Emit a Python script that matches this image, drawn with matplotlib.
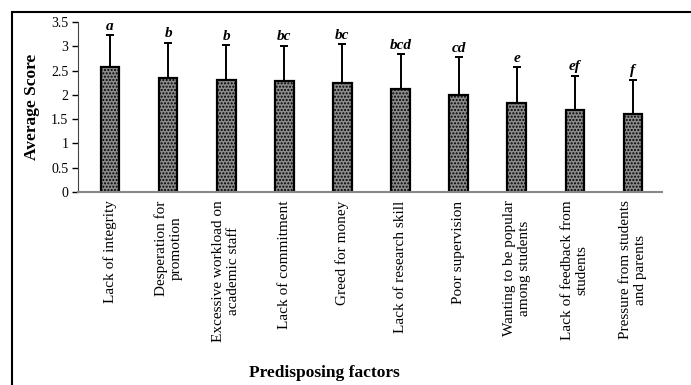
import matplotlib.pyplot as plt
from matplotlib.patches import Rectangle
import numpy as np

factors = ['Lack of integrity', 'Desperation for\npromotion',
           'Excessive workload on\nacademic staff', 'Lack of commitment',
           'Greed for money', 'Lack of research skill', 'Poor supervision',
           'Wanting to be popular\namong students', 'Lack of feedback from\nstudents',
           'Pressure from students\nand parents']
means = [2.57, 2.35, 2.31, 2.29, 2.25, 2.12, 2.00, 1.83, 1.69, 1.60]
errs = [0.66, 0.72, 0.71, 0.72, 0.79, 0.72, 0.77, 0.74, 0.70, 0.71]
letters = ['a', 'b', 'b', 'bc', 'bc', 'bcd', 'cd', 'e', 'ef', 'f']

plt.rcParams['font.family'] = 'Liberation Serif'
plt.rcParams['hatch.color'] = '#555555'
plt.rcParams['hatch.linewidth'] = 1.0

fig = plt.figure(figsize=(6.91, 3.85), dpi=100)
ax = fig.add_axes([0.113, 0.501, 0.845, 0.442])

x = np.arange(len(means))
ax.bar(x, means, width=0.32, color='#8c8c8c', edgecolor='black', linewidth=1.6,
       hatch='.....', zorder=2)
ax.errorbar(x, means, yerr=[np.zeros(len(errs)), errs], fmt='none', ecolor='black',
            elinewidth=1.4, capsize=3, capthick=1.4, zorder=1)
for xi, m, e, l in zip(x, means, errs, letters):
    ax.text(xi, m + e + 0.05, l, ha='center', va='bottom', fontsize=11,
            fontweight='bold', fontstyle='italic')

ax.set_xlim(-0.55, 9.5)
ax.set_ylim(0, 3.5)
ax.set_yticks(np.arange(0, 3.6, 0.5))
ax.set_yticklabels(['0', '0.5', '1', '1.5', '2', '2.5', '3', '3.5'])
ax.set_xticks(x)
ax.set_xticklabels(factors, rotation=90, ha='center', va='top', multialignment='center',
                   fontsize=11)
ax.tick_params(axis='x', length=0, pad=6)
ax.tick_params(axis='y', length=4, width=1, labelsize=10, pad=3)
for s in ['top', 'right']:
    ax.spines[s].set_visible(False)
ax.spines['left'].set_color('#444444')
ax.spines['bottom'].set_color('#888888')
ax.spines['bottom'].set_linewidth(1.5)

ax.set_ylabel('Average Score', fontsize=12.5, fontweight='bold', labelpad=8)
fig.text(0.47, 0.03, 'Predisposing factors', ha='center', va='center',
         fontsize=12.5, fontweight='bold')

fig.patches.append(Rectangle((12 / 691, -0.1), 1.2, 1 - 12 / 385 + 0.1,
                             transform=fig.transFigure, fill=False,
                             edgecolor='black', linewidth=1.5))

fig.savefig('out.png', dpi=100)
